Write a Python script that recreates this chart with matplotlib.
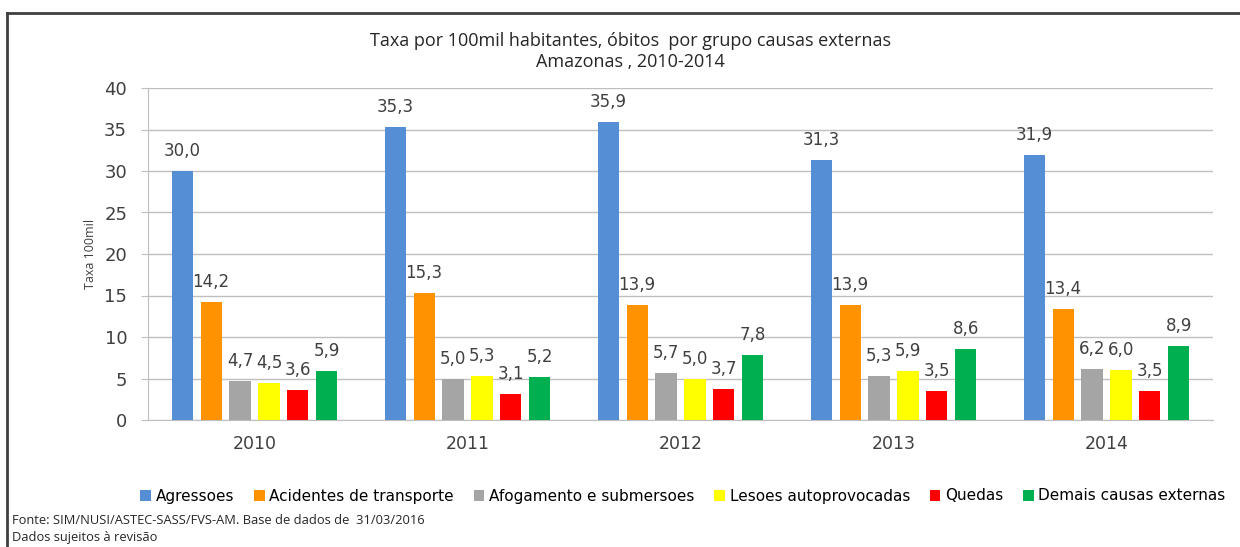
import matplotlib
matplotlib.use("Agg")
import matplotlib.pyplot as plt
import numpy as np
from matplotlib.lines import Line2D
from matplotlib.patches import Patch

years = ["2010", "2011", "2012", "2013", "2014"]
series_names = ["Agressoes", "Acidentes de transporte", "Afogamento e submersoes",
                "Lesoes autoprovocadas", "Quedas", "Demais causas externas"]
agressoes = [30.0, 35.3, 35.9, 31.3, 31.9]
acidentes = [14.2, 15.3, 13.9, 13.9, 13.4]
afogamento = [4.7, 5.0, 5.7, 5.3, 6.2]
lesoes = [4.5, 5.3, 5.0, 5.9, 6.0]
quedas = [3.6, 3.1, 3.7, 3.5, 3.5]
demais = [5.9, 5.2, 7.8, 8.6, 8.9]
values = [agressoes, acidentes, afogamento, lesoes, quedas, demais]
colors = ["#558ED5", "#FF9200", "#A5A5A5", "#FFFF00", "#FF0000", "#00B050"]

title_font = ["Liberation Sans Narrow", "Open Sans", "DejaVu Sans"]
main_font = ["DejaVu Sans"]

fig = plt.figure(figsize=(12.4, 5.47), dpi=100)
ax = fig.add_axes([148/1240, 1 - 420/547, (1213-148)/1240, (420-88)/547])

x = np.arange(len(years))
width = 0.099
pitch = 0.136
for i, (vals, col) in enumerate(zip(values, colors)):
    pos = x + (i - 2.5) * pitch
    ax.bar(pos, vals, width=width, color=col, zorder=3, label=series_names[i])
    for p, v in zip(pos, vals):
        ax.text(p, v + 1.3, f"{v:.1f}".replace(".", ","), ha="center", va="bottom",
                fontsize=12, color="#404040", family=main_font)

ax.set_xlim(-0.5, 4.5)
ax.set_ylim(0, 40)
ax.set_yticks(range(0, 41, 5))
ax.set_xticks(x)
ax.set_xticklabels(years)
ax.yaxis.grid(True, color="#BFBFBF", linewidth=1, zorder=0)
for s in ["top", "right"]:
    ax.spines[s].set_visible(False)
ax.spines["left"].set_color("#BFBFBF")
ax.spines["bottom"].set_color("#BFBFBF")
ax.tick_params(axis="y", length=5, color="#BFBFBF", labelsize=13, labelcolor="#404040", pad=10)
ax.tick_params(axis="x", length=0, labelsize=12.5, labelcolor="#404040", pad=11)
for lab in ax.get_yticklabels() + ax.get_xticklabels():
    lab.set_family(main_font)
ax.set_ylabel("Taxa 100mil", fontsize=9, family=title_font, color="#404040", labelpad=5)

fig.text(630/1240, 1 - 41/547, "Taxa por 100mil habitantes, óbitos  por grupo causas externas",
         ha="center", va="center", fontsize=13, family=title_font, color="#262626")
fig.text(630/1240, 1 - 62/547, "Amazonas , 2010-2014",
         ha="center", va="center", fontsize=13, family=title_font, color="#262626")

handles = [Patch(facecolor=c, edgecolor="none") for c in colors]
fig.legend(handles, series_names, loc="center", bbox_to_anchor=(683/1240, 1 - 496/547),
           ncol=6, frameon=False, handlelength=0.7, handleheight=0.7,
           handletextpad=0.3, columnspacing=1.3, prop={"family": main_font, "size": 11})

fig.text(12/1240, 1 - 521/547, "Fonte: SIM/NUSI/ASTEC-SASS/FVS-AM. Base de dados de  31/03/2016",
         ha="left", va="center", fontsize=9.3, family=title_font, color="#262626")
fig.text(12/1240, 1 - 537/547, "Dados sujeitos à revisão",
         ha="left", va="center", fontsize=9.3, family=title_font, color="#262626")

# outer frame (top and left)
fig.add_artist(Line2D([7/1240, 1.0], [1 - 13/547, 1 - 13/547], transform=fig.transFigure,
                      color="#404040", linewidth=2))
fig.add_artist(Line2D([7/1240, 7/1240], [0, 1 - 13/547], transform=fig.transFigure,
                      color="#404040", linewidth=2))

fig.savefig("out.png", dpi=100)
